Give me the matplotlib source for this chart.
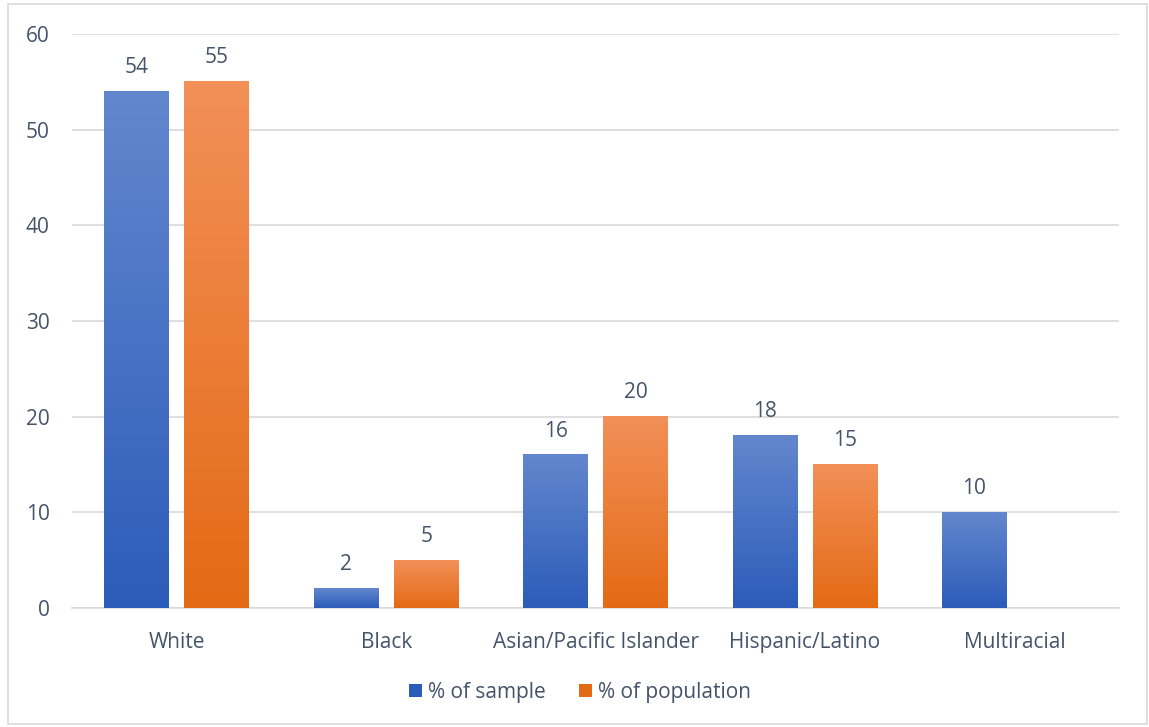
import numpy as np
import matplotlib
matplotlib.use("Agg")
import matplotlib.pyplot as plt
from matplotlib.colors import LinearSegmentedColormap
from matplotlib.patches import Rectangle, Patch

# %% data

categories = ["White", "Black", "Asian/Pacific Islander", "Hispanic/Latino", "Multiracial"]
pct_sample = [54, 2, 16, 18, 10]
pct_population = [55, 5, 20, 15, np.nan]
series_names = ["% of sample", "% of population"]

# %% style

fs = 15
txt_col = "#44546A"
grid_col = "#D9D9D9"
blue_top, blue_bot = "#6387CE", "#2C5CB9"
orange_top, orange_bot = "#F29058", "#E46A15"
plt.rcParams["font.family"] = ["Open Sans", "DejaVu Sans"]

fig = plt.figure(figsize=(11.49, 7.27), dpi=100)
ax = fig.add_axes([0.0627, 0.1637, 0.9113, 0.7895])

# light frame round the whole chart
fig.patches.append(Rectangle((0.007, 0.004), 0.991, 0.99, transform=fig.transFigure,
                             fill=False, edgecolor="#D9D9D9", linewidth=1.2))

x = np.arange(len(categories))
w = 0.31
gap = 0.072
offsets = [-(w + gap) / 2, (w + gap) / 2]

grad = np.linspace(1, 0, 256).reshape(-1, 1)


def gradient_bars(vals, off, top, bot):
    cmap = LinearSegmentedColormap.from_list("g", [bot, top])
    bars = ax.bar(x + off, np.nan_to_num(vals), width=w, color="none", zorder=3)
    for b, v in zip(bars, vals):
        if np.isnan(v):
            continue
        x0, y0 = b.get_x(), b.get_y()
        ax.imshow(grad, cmap=cmap, aspect="auto", zorder=3, interpolation="bicubic",
                  extent=[x0, x0 + b.get_width(), y0, y0 + b.get_height()])
        ax.text(x0 + b.get_width() / 2, v + 1.4, f"{v:g}", ha="center", va="bottom",
                fontsize=fs, color=txt_col)


gradient_bars(pct_sample, offsets[0], blue_top, blue_bot)
gradient_bars(pct_population, offsets[1], orange_top, orange_bot)

ax.set_xlim(-0.5, len(categories) - 0.5)
ax.set_ylim(0, 60)
ax.set_yticks(range(0, 61, 10))
ax.set_xticks(x)
ax.set_xticklabels(categories)
ax.tick_params(axis="both", length=0, labelsize=fs, colors=txt_col)
ax.tick_params(axis="x", pad=17)
ax.tick_params(axis="y", pad=16)
ax.grid(axis="y", color=grid_col, linewidth=1.2, zorder=0)
ax.set_axisbelow(True)
for s in ["top", "right", "left"]:
    ax.spines[s].set_visible(False)
ax.spines["bottom"].set_color(grid_col)
ax.spines["bottom"].set_linewidth(1.2)

handles = [Patch(facecolor=blue_bot, edgecolor="none"),
           Patch(facecolor=orange_bot, edgecolor="none")]
fig.legend(handles, series_names, loc="center", bbox_to_anchor=(0.505, 0.048), ncol=2,
           frameon=False, fontsize=fs, labelcolor=txt_col, handlelength=0.6,
           handleheight=0.6, handletextpad=0.3, columnspacing=1.6)

fig.savefig("out.png", dpi=100)
